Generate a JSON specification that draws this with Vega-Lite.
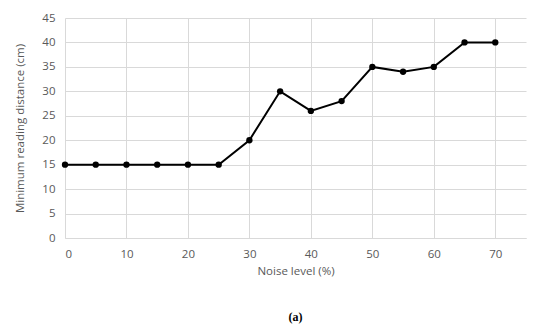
{
  "$schema": "https://vega.github.io/schema/vega-lite/v6.json",
  "autosize": "none",
  "width": 461,
  "height": 220,
  "padding": {"left": 65, "top": 18, "right": 24, "bottom": 90},
  "background": "white",
  "config": {
    "view": {"stroke": null},
    "axis": {
      "labelFont": "Open Sans",
      "titleFont": "Open Sans",
      "labelColor": "#595959",
      "titleColor": "#595959",
      "labelFontSize": 11.5,
      "titleFontSize": 11.5,
      "titleFontWeight": "normal",
      "gridColor": "#d9d9d9",
      "gridWidth": 1,
      "ticks": false
    }
  },
  "title": {
    "text": "(a)",
    "orient": "bottom",
    "font": "Liberation Serif",
    "fontSize": 12,
    "fontWeight": "bold",
    "color": "#000000",
    "offset": 35,
    "anchor": "middle"
  },
  "data": {
    "values": [
      {"noise": 0, "dist": 15},
      {"noise": 5, "dist": 15},
      {"noise": 10, "dist": 15},
      {"noise": 15, "dist": 15},
      {"noise": 20, "dist": 15},
      {"noise": 25, "dist": 15},
      {"noise": 30, "dist": 20},
      {"noise": 35, "dist": 30},
      {"noise": 40, "dist": 26},
      {"noise": 45, "dist": 28},
      {"noise": 50, "dist": 35},
      {"noise": 55, "dist": 34},
      {"noise": 60, "dist": 35},
      {"noise": 65, "dist": 40},
      {"noise": 70, "dist": 40}
    ]
  },
  "encoding": {
    "x": {
      "field": "noise",
      "type": "quantitative",
      "scale": {"domain": [0, 75], "nice": false, "zero": false},
      "axis": {
        "title": "Noise level (%)",
        "values": [0, 10, 20, 30, 40, 50, 60, 70],
        "labelPadding": 10,
        "titlePadding": 6,
        "domainColor": "#d9d9d9"
      }
    },
    "y": {
      "field": "dist",
      "type": "quantitative",
      "scale": {"domain": [0, 45], "nice": false},
      "axis": {
        "title": "Minimum reading distance (cm)",
        "values": [0, 5, 10, 15, 20, 25, 30, 35, 40, 45],
        "labelPadding": 10,
        "titlePadding": 16,
        "domain": false
      }
    }
  },
  "layer": [
    {"mark": {"type": "line", "color": "black", "strokeWidth": 2}},
    {"mark": {"type": "point", "filled": true, "color": "black", "size": 40, "opacity": 1}}
  ]
}
